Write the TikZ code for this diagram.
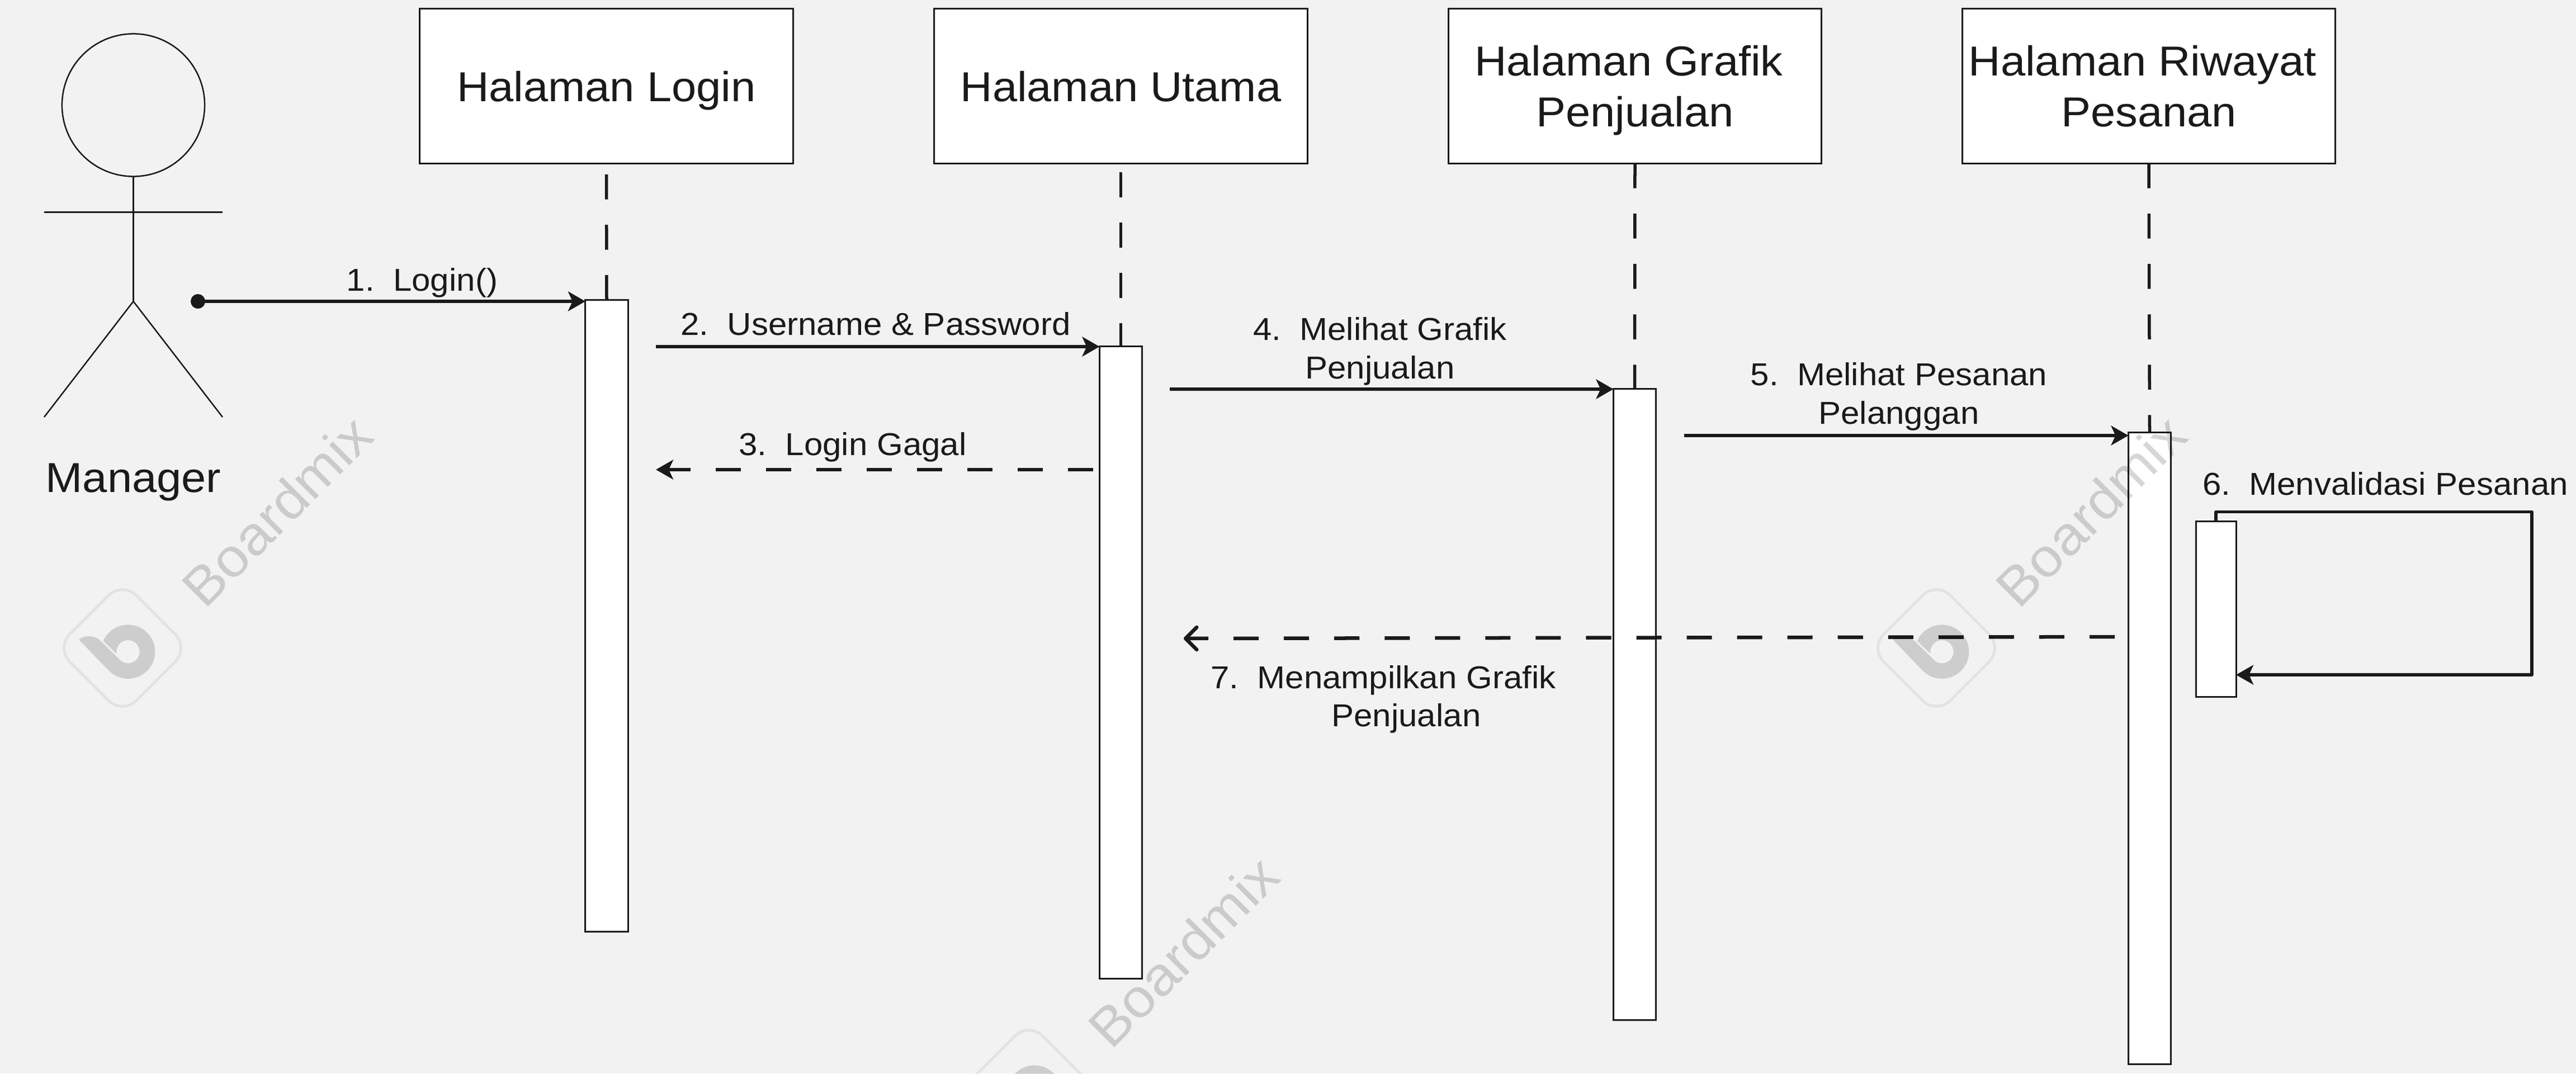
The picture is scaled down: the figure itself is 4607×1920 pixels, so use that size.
\documentclass[tikz,border=0pt]{standalone}
\usepackage{fontspec}
\setmainfont[FakeStretch=1.06]{Liberation Sans}
\usetikzlibrary{arrows.meta,calc}
\definecolor{ink}{HTML}{1A1A1A}
\definecolor{bgc}{HTML}{F2F2F2}
\tikzset{
  big/.style={font=\fontsize{21.3}{25.9}\selectfont,text=ink},
  small/.style={font=\fontsize{16.1}{19.6}\selectfont,text=ink},
  headbox/.style={draw=ink,fill=white,line width=0.03cm,inner sep=0pt,outer sep=0pt,minimum width=6.67cm,minimum height=2.76cm,align=center,big,text depth=0pt},
  bar/.style={draw=ink,fill=white,line width=0.03cm,inner sep=0pt,outer sep=0pt,minimum width=0.76cm},
  life/.style={draw=ink,line width=0.055cm,dash pattern=on 0.445cm off 0.455cm},
  msg/.style={draw=ink,line width=0.055cm,-{Stealth[length=0.31cm,width=0.35cm,inset=0.08cm]}},
  retsolid/.style={draw=ink,line width=0.065cm,dash pattern=on 0.45cm off 0.45cm,-{Stealth[length=0.31cm,width=0.35cm,inset=0.08cm]}},
  ret/.style={draw=ink,line width=0.065cm,dash pattern=on 0.45cm off 0.45cm,-{Straight Barb[length=0.2cm,width=0.4cm,round,line width=0.065cm]}},
  stick/.style={draw=ink,line width=0.025cm},
  lbl/.style={small,inner sep=0pt,outer sep=0pt,align=center},
  wmt/.style={font=\fontsize{27.5}{32}\selectfont,text=black,text opacity=0.16,inner sep=0pt,rotate=45},
}
\newcommand{\wmark}[2]{%
  \begin{scope}[shift={(#1,#2)},x=0.01cm,y=0.01cm]
    \draw[black,opacity=0.06,line width=0.05cm,rotate=45,rounded corners=0.35cm] (-84,-84) rectangle (84,84);
    \fill[black,opacity=0.15] (-34.3,12.5) arc[start angle=156.6,end angle=-133.3,radius=48.3]
      -- (-78,15) .. controls (-70.7,21.7) and (-54,24) .. (-42.3,15.7)
      -- ([shift={(10,-6.7)}]236.3:20.7) arc[start angle=236.3,end angle=550,radius=20.7] -- cycle;
    \node[wmt] (wm#1) at (276,245) {Boardmix};
  \end{scope}}
\begin{document}
\begin{tikzpicture}[x=0.01cm,y=-0.01cm]
\fill[bgc] (0,0) rectangle (4607,1920);
\useasboundingbox (0,0) rectangle (4607,1920);

% actor
\node[circle,draw=ink,line width=0.025cm,minimum size=2.55cm,inner sep=0pt,outer sep=0pt] (head) at (238.5,188) {};
\coordinate (hip) at (238.5,539);
\coordinate (armL) at (79,379.5);
\coordinate (armR) at (398,379.5);
\coordinate (legL) at (79,746);
\coordinate (legR) at (398,746);
\draw[stick] (head.south) -- (hip);
\draw[stick] (armL) -- (armR);
\draw[stick] (legL) -- (hip) -- (legR);
\node[big,inner sep=0pt,anchor=base] (actor) at (238.5,880) {Manager};

% lifeline heads
\node[headbox] (h1) at (1084.5,154) {Halaman Login};
\node[headbox] (h2) at (2004.5,154) {Halaman Utama};
\node[headbox] (h3) at (2924,154) {Halaman Grafik\ \hbox{}\\Penjualan};
\node[headbox] (h4) at (3843,154) {Halaman Riwayat\ \hbox{}\\Pesanan};

% activation bars
\node[bar,minimum height=11.29cm] (a1) at (1085,1101.5) {};
\node[bar,minimum height=11.30cm] (a2) at (2004.5,1185) {};
\node[bar,minimum height=11.28cm] (a3) at (2923.5,1260) {};
\node[bar,minimum height=11.29cm] (a4) at (3844.5,1338.5) {};
\node[bar,minimum width=0.72cm,minimum height=3.14cm] (a5) at (3963,1089.5) {};

% lifelines
\draw[life,shorten <=0.2cm] (h1.south) -- (a1.north);
\draw[life,shorten <=0.16cm] (h2.south) -- (a2.north);
\draw[life] (h3.south) -- (a3.north);
\draw[life] (h4.south) -- (a4.north);

% messages
\node[circle,fill=ink,minimum size=0.26cm,inner sep=0pt,outer sep=0pt] (dot1) at (354,539) {};
\draw[msg] (dot1.center) -- (dot1.center -| a1.west);
\coordinate (m2) at (1173,620);
\draw[msg] (m2) -- (m2 -| a2.west);
\coordinate (m3a) at (1955,840);
\coordinate (m3b) at (1173,840);
\draw[retsolid] (m3a) -- (m3b);
\coordinate (m4) at (2092,696);
\draw[msg] (m4) -- (m4 -| a3.west);
\coordinate (m5) at (3012,779);
\draw[msg] (m5) -- (m5 -| a4.west);
\coordinate (m6t) at (4528,915.5);
\coordinate (m6b) at (4528,1207);
\draw[msg,line join=round] (a5.north) -- (a5.north |- m6t) -- (m6t) -- (m6b) -- (m6b -| a5.east);
\coordinate (m7a) at (3782,1139);
\coordinate (m7b) at (2117,1142);
\draw[ret] (m7a) -- (m7b);

% labels
\node[lbl] (t1) at (755,506) {1.\ \ Login()};
\node[lbl] (t2) at (1566,579) {2.\ \ Username \& Password};
\node[lbl] (t3) at (1525,800) {3.\ \ Login Gagal};
\node[lbl] (t4) at (2468,628) {4.\ \ Melihat Grafik\\Penjualan};
\node[lbl] (t5) at (3396,709) {5.\ \ Melihat Pesanan\\Pelanggan};
\node[lbl] (t6) at (4266,865) {6.\ \ Menvalidasi Pesanan};
\node[lbl] (t7a) at (2474,1217) {7.\ \ Menampilkan Grafik};
\node[lbl] (t7b) at (2515,1285) {Penjualan};

% watermarks
\begin{scope}
\clip (0,0) rectangle (4607,1920);
\wmark{219}{1159}
\wmark{3463}{1159}
\wmark{1840}{1947}
\end{scope}
\end{tikzpicture}
\end{document}
